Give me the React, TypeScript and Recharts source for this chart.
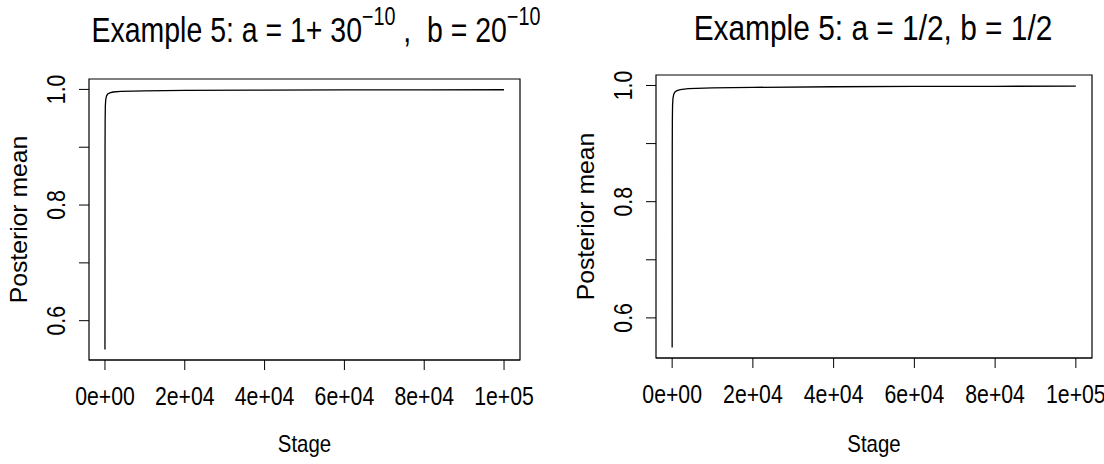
import { LineChart, Line, XAxis, YAxis, ReferenceArea } from 'recharts'

// stage grid the two posterior-mean paths are read at
const stages = [1, 20, 50, 100, 200, 400, 700, 1200, 2000, 4000, 10000, 20000, 40000, 60000, 80000, 100000]
// a = 1 + 30^-10, b = 20^-10
const meanLeft = [0.55, 0.9, 0.95, 0.972, 0.983, 0.989, 0.992, 0.994, 0.9955, 0.9966, 0.9975, 0.9982, 0.9988, 0.9991, 0.9993, 0.9994]
// a = 1/2, b = 1/2
const meanRight = [0.549, 0.88, 0.94, 0.965, 0.978, 0.985, 0.989, 0.991, 0.993, 0.9945, 0.9958, 0.9968, 0.9978, 0.9983, 0.9986, 0.9988]

const xTicks = [0, 20000, 40000, 60000, 80000, 100000]
const xTickLabels = ['0e+00', '2e+04', '4e+04', '6e+04', '8e+04', '1e+05']
const yTicks = [0.6, 0.7, 0.8, 0.9, 1.0]
const yTickLabels = ['0.6', '', '0.8', '', '1.0']

const FONT = "'Liberation Sans', Arial, sans-serif"
// the reference uses a narrow Helvetica; squeeze the glyphs along the text direction
const NARROW = 0.85

// R style axis ranges: data range widened by 4% each side
const pad = (lo: number, hi: number): [number, number] => {
  const r = hi - lo
  return [lo - 0.04 * r, hi + 0.04 * r]
}
const xDomain = pad(0, 100000)

function NText({ x, y, angle = 0, size, squeeze = NARROW, anchor = 'middle', dy, children }: any) {
  return (
    <text
      x={0}
      y={0}
      dy={dy}
      textAnchor={anchor}
      fontSize={size}
      fill="#000"
      fontFamily={FONT}
      transform={`translate(${x} ${y}) rotate(${angle}) scale(${squeeze} 1)`}
    >
      {children}
    </text>
  )
}

const XTick = ({ x, y, payload }: any) => (
  <NText x={x} y={y} dy="0.71em" size={25}>
    {xTickLabels[xTicks.indexOf(payload.value)]}
  </NText>
)

const YTick = ({ x, y, payload }: any) => (
  <NText x={x} y={y} angle={-90} size={25}>
    {yTickLabels[yTicks.indexOf(payload.value)]}
  </NText>
)

const XTitle = ({ viewBox }: any) => (
  <NText x={viewBox.x + viewBox.width / 2} y={viewBox.y + viewBox.height - 12} size={24}>
    Stage
  </NText>
)

const YTitle = ({ viewBox }: any) => (
  <NText x={viewBox.x + viewBox.width - 62} y={viewBox.y + viewBox.height / 2} angle={-90} size={24} squeeze={1.03}>
    Posterior mean
  </NText>
)

interface PanelProps {
  values: number[]
  left: number
  plotLeft: number
  plotTop: number
  plotRight: number
  plotBottom: number
}

function Panel({ values, left, plotLeft, plotTop, plotRight, plotBottom }: PanelProps) {
  const data = stages.map((s, i) => ({ stage: s, mean: values[i] }))
  const yDomain = pad(Math.min(...values), 1.0)
  return (
    <div style={{ position: 'absolute', left, top: 0 }}>
      <LineChart
        width={552}
        height={464}
        data={data}
        margin={{ top: plotTop, right: plotRight, bottom: 0, left: 0 }}
      >
        <XAxis
          dataKey="stage"
          type="number"
          domain={xDomain}
          ticks={xTicks}
          interval={0}
          height={plotBottom}
          tickSize={10}
          tickMargin={17}
          tick={<XTick />}
          axisLine={{ stroke: '#000' }}
          tickLine={{ stroke: '#000' }}
          allowDataOverflow
          label={<XTitle />}
        />
        <YAxis
          type="number"
          domain={yDomain}
          ticks={yTicks}
          interval={0}
          width={plotLeft}
          tickSize={10}
          tickMargin={14}
          tick={<YTick />}
          axisLine={false}
          tickLine={{ stroke: '#000' }}
          allowDataOverflow
          label={<YTitle />}
        />
        <ReferenceArea
          x1={xDomain[0]}
          x2={xDomain[1]}
          y1={yDomain[0]}
          y2={yDomain[1]}
          fill="none"
          stroke="#000"
          strokeWidth={1.2}
          fillOpacity={0}
        />
        <Line
          type="linear"
          dataKey="mean"
          stroke="#000"
          strokeWidth={1.3}
          dot={false}
          isAnimationActive={false}
        />
      </LineChart>
    </div>
  )
}

export default function App() {
  return (
    <div style={{ position: 'absolute', left: 0, top: 0, width: 1104, height: 464, background: '#fff', overflow: 'hidden' }}>
      <Panel values={meanLeft} left={0} plotLeft={89} plotTop={79} plotRight={32} plotBottom={104} />
      <Panel values={meanRight} left={552} plotLeft={104} plotTop={75} plotRight={12} plotBottom={106} />
      <svg width={1104} height={60} style={{ position: 'absolute', left: 0, top: 0 }}>
        <NText x={316} y={42} size={36} squeeze={0.79}>
          Example 5: a = 1+ 30
          <tspan dy={-17} fontSize={25}>−10</tspan>
          <tspan dy={17}>{'\u00a0,\u00a0\u00a0b = 20'}</tspan>
          <tspan dy={-17} fontSize={25}>−10</tspan>
        </NText>
        <NText x={873} y={40} size={36} squeeze={0.83}>
          Example 5: a = 1/2, b = 1/2
        </NText>
      </svg>
    </div>
  )
}
